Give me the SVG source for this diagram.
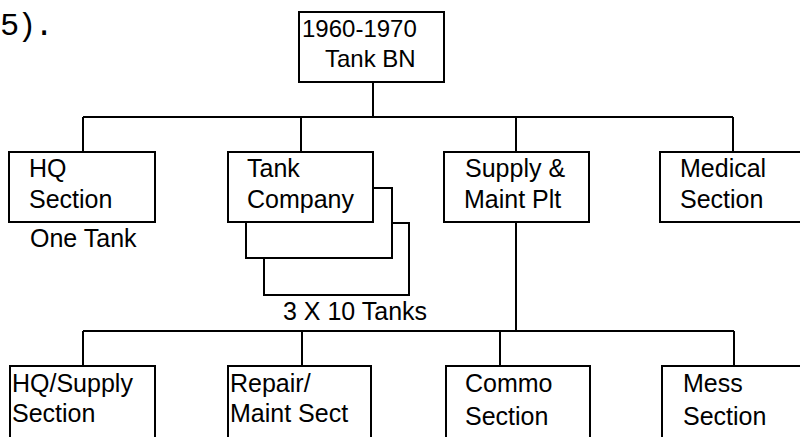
<svg xmlns="http://www.w3.org/2000/svg" width="800" height="437" viewBox="0 0 800 437">
<style>
.box{fill:#fff;stroke:#000;stroke-width:2}
.ln{fill:none;stroke:#000;stroke-width:2}
.t{font-family:"Liberation Sans",Arial,Helvetica,sans-serif;font-size:25px;fill:#000}
.s{font-size:24px}
.m{font-family:"Liberation Mono","Courier New",monospace;font-size:32px;fill:#000}
</style>
<rect width="800" height="437" fill="#fff"/>
<text class="m" x="0" y="35" letter-spacing="-2">5).</text>
<g id="connectors">
<path class="ln" d="M373 82V117M83 117H733M83 117V152M301 117V152M516 117V152M733 117V152"/>
<path class="ln" d="M516 222V331M83 331H734M83 331V366M302 331V366M500 331V366M734 331V366"/>
</g>
<g id="tank-bn">
<rect class="box" x="299" y="12" width="145" height="70"/>
<text class="t s" x="302" y="37">1960-1970</text>
<text class="t s" x="325" y="67">Tank BN</text>
</g>
<g id="hq-section">
<rect class="box" x="9" y="152" width="146" height="70"/>
<text class="t" x="29" y="177">HQ</text>
<text class="t" x="29" y="208">Section</text>
<text class="t" x="30" y="247">One Tank</text>
</g>
<g id="tank-company">
<rect class="box" x="264" y="223" width="145" height="72"/>
<rect class="box" x="246" y="188" width="146" height="70"/>
<rect class="box" x="228" y="152" width="145" height="70"/>
<text class="t" x="247" y="177">Tank</text>
<text class="t" x="247" y="208">Company</text>
<text class="t" x="283" y="320">3 X 10 Tanks</text>
</g>
<g id="supply-maint">
<rect class="box" x="444" y="152" width="145" height="70"/>
<text class="t" x="465" y="177">Supply &amp;</text>
<text class="t" x="464" y="208">Maint Plt</text>
</g>
<g id="medical">
<rect class="box" x="660" y="152" width="160" height="70"/>
<text class="t" x="680" y="177">Medical</text>
<text class="t" x="680" y="208">Section</text>
</g>
<g id="hq-supply">
<rect class="box" x="10" y="366" width="145" height="90"/>
<text class="t" x="12" y="392">HQ/Supply</text>
<text class="t" x="12" y="422">Section</text>
</g>
<g id="repair-maint">
<rect class="box" x="228" y="366" width="143" height="90"/>
<text class="t" x="230" y="392">Repair/</text>
<text class="t" x="230" y="422">Maint Sect</text>
</g>
<g id="commo">
<rect class="box" x="446" y="366" width="144" height="90"/>
<text class="t" x="465" y="392">Commo</text>
<text class="t" x="465" y="425">Section</text>
</g>
<g id="mess">
<rect class="box" x="662" y="366" width="160" height="90"/>
<text class="t" x="683" y="392">Mess</text>
<text class="t" x="683" y="425">Section</text>
</g>
</svg>
